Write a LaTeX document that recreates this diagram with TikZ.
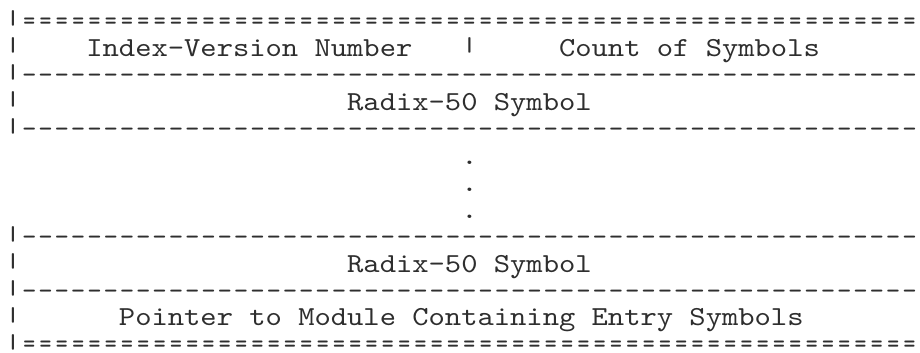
\documentclass[tikz,border=0pt]{standalone}
\usepackage{fontspec}
\usepackage{graphicx}
\newfontfamily\asciimono[Ligatures=TeXOff,FakeStretch=1.129]{lmmono10-regular.otf}
\newfontfamily\asciiplain[Ligatures=TeXOff]{lmmono10-regular.otf}
\definecolor{ink}{HTML}{2E2E2E}
\newcommand{\cellat}[4]{\node[asciitxt] (#1) at ({(4.85+#2*16.3)*1pt},{-(29.5+#3*26.95)*1pt}) {#4};}
\newcommand{\vbarglyph}{\raisebox{4.5pt}{\scalebox{1}[0.727]{|}}}
\newcommand{\rulechars}[2]{{\asciiplain\fontsize{27.5}{27}\selectfont\foreach \k in {1,...,#2}{\makebox[16.3pt]{#1}}}}
\newcommand{\eqglyph}{\scalebox{0.82}[1]{=}}
\begin{document}
\begin{tikzpicture}[
  asciitxt/.style={anchor=base west, inner sep=0pt, outer sep=0pt, text=ink,
    font=\asciimono\fontsize{27.5}{27}\selectfont}
]
\useasboundingbox[fill=white] (0,0) rectangle (920pt,-353pt);
\cellat{b0}{0}{0}{\vbarglyph}
\cellat{r0}{1}{0}{\rulechars{\eqglyph}{55}}
\cellat{b1}{0}{1}{\vbarglyph}
\cellat{r1b}{5}{1}{Index-Version Number}
\cellat{r1c}{28}{1}{\vbarglyph}
\cellat{r1d}{34}{1}{Count of Symbols}
\cellat{b2}{0}{2}{\vbarglyph}
\cellat{r2}{1}{2}{\rulechars{-}{55}}
\cellat{b3}{0}{3}{\vbarglyph}
\cellat{r3b}{21}{3}{Radix-50 Symbol}
\cellat{b4}{0}{4}{\vbarglyph}
\cellat{r4}{1}{4}{\rulechars{-}{55}}
\cellat{r5}{28}{5}{.}
\cellat{r6}{28}{6}{.}
\cellat{r7}{28}{7}{.}
\cellat{b8}{0}{8}{\vbarglyph}
\cellat{r8}{1}{8}{\rulechars{-}{55}}
\cellat{b9}{0}{9}{\vbarglyph}
\cellat{r9b}{21}{9}{Radix-50 Symbol}
\cellat{b10}{0}{10}{\vbarglyph}
\cellat{r10}{1}{10}{\rulechars{-}{55}}
\cellat{b11}{0}{11}{\vbarglyph}
\cellat{r11b}{7}{11}{Pointer to Module Containing Entry Symbols}
\cellat{b12}{0}{12}{\vbarglyph}
\cellat{r12}{1}{12}{\rulechars{\eqglyph}{55}}
\end{tikzpicture}
\end{document}
